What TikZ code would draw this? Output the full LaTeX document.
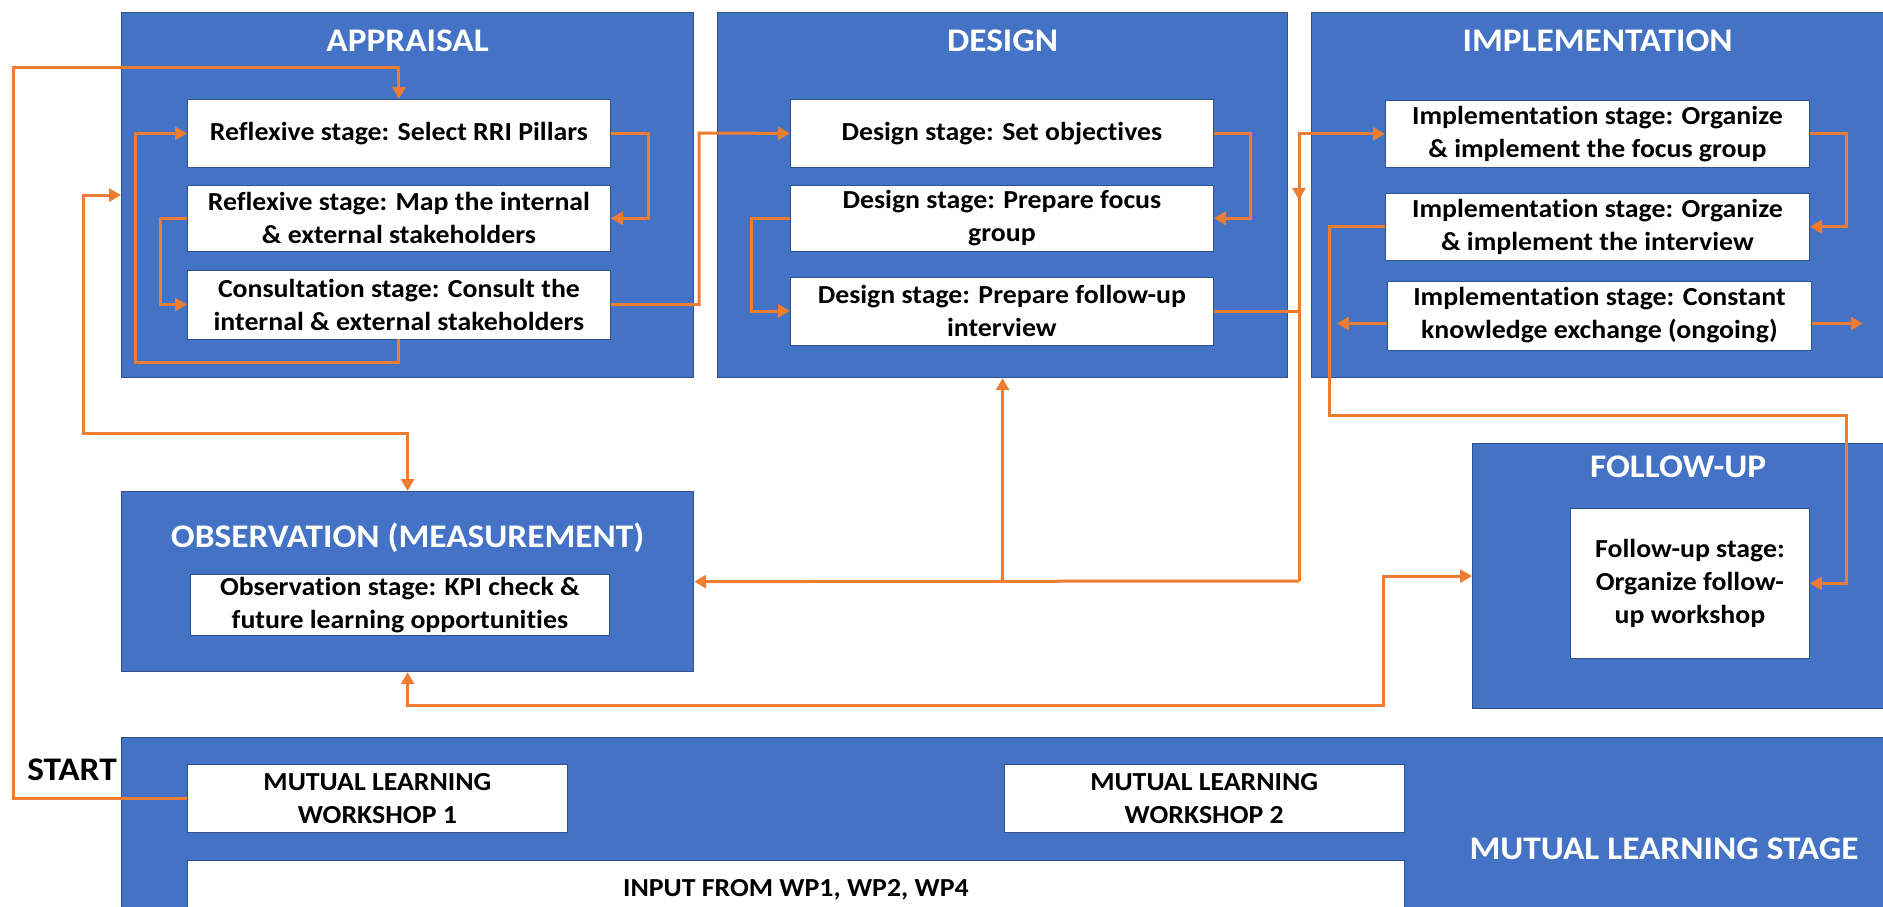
\documentclass[tikz,border=0pt]{standalone}
\usepackage{fontspec}
\setmainfont{Carlito}[FakeStretch=1.07, Ligatures=NoCommon]
\usepackage{tikz}
\usetikzlibrary{positioning, arrows.meta, calc}
\definecolor{boxblue}{RGB}{68, 114, 196}
\definecolor{edgeblue}{RGB}{47, 82, 143}
\definecolor{floworange}{RGB}{237, 125, 49}

\begin{document}
\begin{tikzpicture}[
        x=1pt, y=-1pt,
        phase/.style={rectangle, fill=boxblue, draw=edgeblue, line width=1.2pt, anchor=north west, inner sep=0pt},
        task/.style={rectangle, fill=white, draw=edgeblue, line width=0.8pt, align=center, inner sep=0pt, minimum width=423pt, minimum height=68pt, font=\bfseries\fontsize{26}{33}\selectfont},
        heading/.style={text=white, anchor=base, inner sep=0pt, font=\bfseries\fontsize{33}{40}\selectfont},
        link/.style={draw=floworange, line width=3pt},
        flow/.style={link, -{Triangle[length=12pt, width=13pt]}},
        twoway/.style={link, {Triangle[length=12pt, width=13pt]}-{Triangle[length=12pt, width=13pt]}}
    ]
        \useasboundingbox (0,0) rectangle (1883,906);

        % Phases
        \node[phase, minimum width=572pt, minimum height=365pt] (app) at (121,12) {};
        \node[phase, minimum width=570pt, minimum height=365pt] (des) at (717,12) {};
        \node[phase, minimum width=572pt, minimum height=365pt] (imp) at (1311,12) {};
        \node[phase, minimum width=572pt, minimum height=180pt] (obs) at (121,491) {};
        \node[phase, minimum width=411pt, minimum height=265pt] (fup) at (1472,443) {};
        \node[phase, minimum width=1762pt, minimum height=190pt] (mls) at (121,737) {};

        % Headings
        \node[heading] (apphead) at ([yshift=-39pt]app.north) {APPRAISAL};
        \node[heading] (deshead) at ([yshift=-39pt]des.north) {DESIGN};
        \node[heading] (imphead) at ([yshift=-39pt]imp.north) {IMPLEMENTATION};
        \node[heading] (obshead) at ([yshift=-56pt]obs.north) {OBSERVATION (MEASUREMENT)};
        \node[heading] (fuphead) at ([yshift=-34pt]fup.north) {FOLLOW-UP};
        \node[heading] (mlshead) at (1664,859) {MUTUAL LEARNING STAGE};
        \node[heading, text=black] (start) at (72,780) {START};

        % Appraisal steps
        \node[task, below=87pt of app.north west, anchor=north west, xshift=66pt] (sel) {Reflexive stage: Select RRI Pillars};
        \node[task, below=17pt of sel, minimum height=66pt] (map) {Reflexive stage: Map the internal\\\& external stakeholders};
        \node[task, below=18pt of map, minimum height=69pt] (cons) {Consultation stage: Consult the\\internal \& external stakeholders};

        % Design steps
        \node[task, below=87pt of des.north west, anchor=north west, xshift=73pt] (dobj) {Design stage: Set objectives};
        \node[task, below=17pt of dobj, minimum height=66pt] (dfoc) {Design stage: Prepare focus\\group};
        \node[task, below=25pt of dfoc] (dfol) {Design stage: Prepare follow-up\\interview};

        % Implementation steps
        \node[task, below=88pt of imp.north west, anchor=north west, xshift=74pt, minimum width=424pt, minimum height=67pt] (ifoc) {Implementation stage: Organize\\\& implement the focus group};
        \node[task, below=25pt of ifoc, minimum width=424pt, minimum height=67pt] (iint) {Implementation stage: Organize\\\& implement the interview};
        \node[task, below=20pt of iint, minimum width=424pt, minimum height=69pt, xshift=2pt] (iknow) {Implementation stage: Constant\\knowledge exchange (ongoing)};

        % Observation and follow-up steps
        \node[task, below=83pt of obs.north west, anchor=north west, xshift=69pt, minimum width=419pt, minimum height=61pt] (obsin) {Observation stage: KPI check \&\\future learning opportunities};
        \node[task, below=65pt of fup.north west, anchor=north west, xshift=98pt, minimum width=239pt, minimum height=150pt] (fupin) {Follow-up stage:\\Organize follow-\\up workshop};

        % Mutual learning
        \node[task, below=27pt of mls.north west, anchor=north west, xshift=66pt, minimum width=380pt] (ws1) {MUTUAL LEARNING\\WORKSHOP 1};
        \node[task, right=436pt of ws1, minimum width=400pt] (ws2) {MUTUAL LEARNING\\WORKSHOP 2};
        \node[task, below=27pt of ws1.south west, anchor=north west, minimum width=1217pt, minimum height=60pt] (input) {INPUT FROM WP1, WP2, WP4};

        % Connectors
        \coordinate (trunk) at (1299,581);
        \draw[flow] (ws1.west) -| (13,67) -| (sel.north);
        \draw[flow] (sel.east) -- ++(38,0) |- (map.east);
        \draw[flow] (map.west) -- ++(-27,0) |- (cons.west);
        \draw[flow] (cons.south) |- (135,362) |- (sel.west);
        \draw[flow] (cons.east) -| (699,133) -- (dobj.west);
        \draw[flow] (dobj.east) -- ++(37,0) |- (dfoc.east);
        \draw[flow] (dfoc.west) -- ++(-39,0) |- (dfol.west);
        \draw[link] (dfol.east) -- (dfol.east -| trunk);
        \draw[flow] (trunk) |- (ifoc.west);
        \draw[flow] (ifoc.west -| trunk) -- ++(0,66);
        \draw[flow] (trunk) -- (obs.east);
        \draw[flow] (des.south |- trunk) -- (des.south);
        \draw[flow] (ifoc.east) -- ++(37,0) |- (iint.east);
        \draw[flow] (iint.west) -- ++(-56,0) |- (1846,415) |- (fupin.east);
        \draw[flow] ([yshift=-8pt]iknow.west) -- ++(-50,0);
        \draw[flow] ([yshift=-8pt]iknow.east) -- ++(51,0);
        \draw[twoway] (app.west) -| (83,433) -| (obs.north);
        \draw[twoway] (obs.south) |- (1383,705) |- (fup.west);
    \end{tikzpicture}
\end{document}
